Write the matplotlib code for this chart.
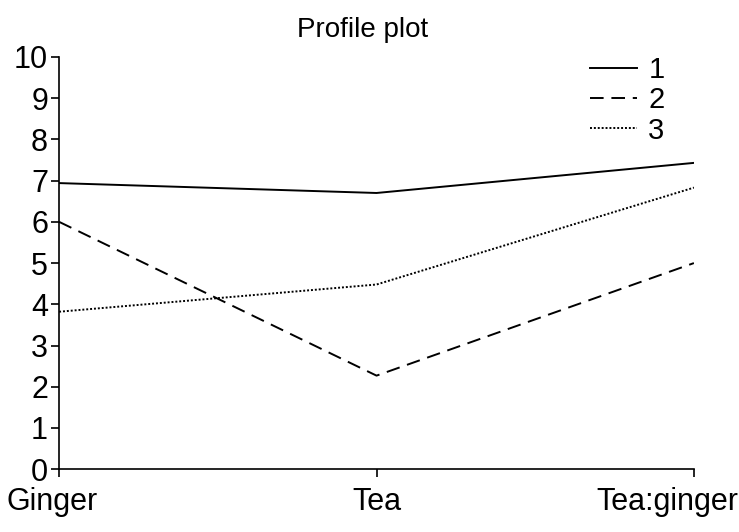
import matplotlib
matplotlib.use("Agg")
import matplotlib.pyplot as plt
import matplotlib.transforms as mtransforms

plt.rcParams['font.family'] = ['Liberation Sans', 'DejaVu Sans']

categories = ["Ginger", "Tea", "Tea:ginger"]
series_names = ["1", "2", "3"]
profile_1 = [6.94, 6.70, 7.43]
profile_2 = [6.00, 2.27, 5.00]
profile_3 = [3.82, 4.48, 6.83]

fig = plt.figure(figsize=(7.39, 5.32), dpi=100)
ax = fig.add_axes([0.080, 0.118, 0.859, 0.775])

x = range(len(categories))
ax.plot(x, profile_1, color='black', lw=1.4, linestyle='-', label=series_names[0])
ax.plot(x, profile_2, color='black', lw=1.4, linestyle=(0, (7, 4)), label=series_names[1])
ax.plot(x, profile_3, color='black', lw=1.4, linestyle=(0, (1, 1)), label=series_names[2])

ax.set_xlim(0, 2)
ax.set_ylim(0, 10)
ax.set_xticks(list(x))
ax.set_xticklabels(categories)
ax.set_yticks(range(0, 11))
ax.spines['top'].set_visible(False)
ax.spines['right'].set_visible(False)
ax.spines['left'].set_linewidth(1.2)
ax.spines['bottom'].set_linewidth(1.2)
ax.tick_params(axis='both', direction='out', length=6, width=1.2, labelsize=22, pad=2)
ax.tick_params(axis='x', pad=7)

# keep outer category labels inside the figure
labels = ax.get_xticklabels()
labels[0].set_transform(labels[0].get_transform() +
                        mtransforms.ScaledTranslation(-0.07, 0, fig.dpi_scale_trans))
labels[2].set_transform(labels[2].get_transform() +
                        mtransforms.ScaledTranslation(-0.27, 0, fig.dpi_scale_trans))

fig.text(0.49, 0.944, "Profile plot", fontsize=20, ha='center', va='center')

ax.legend(loc='upper left', frameon=False, fontsize=21, handlelength=1.6,
          handletextpad=0.4, labelspacing=0.08, borderpad=0, borderaxespad=0,
          bbox_to_anchor=(590 / 739, 1 - 56 / 532), bbox_transform=fig.transFigure)

fig.savefig("out.png", dpi=100)
